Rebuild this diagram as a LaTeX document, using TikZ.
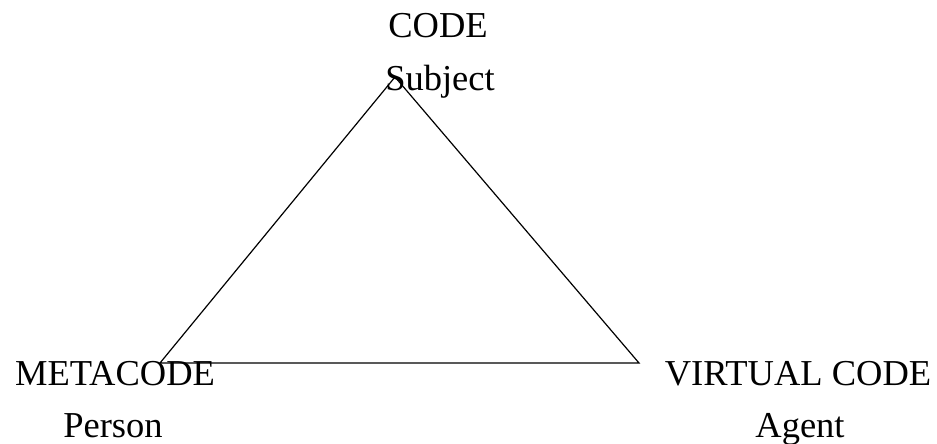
\documentclass[tikz,border=0pt]{standalone}
\usepackage{fontspec}
\setmainfont{Liberation Serif}
\begin{document}
\begin{tikzpicture}[x=1pt,y=-1pt,
  lbl/.style={anchor=base,inner sep=0pt,font=\fontsize{36.5}{40}\selectfont},
  edge/.style={draw=black,line width=1.2pt,line join=miter}]
\useasboundingbox (0,0) rectangle (937,444);
\coordinate (top) at (395,77);
\coordinate (bl) at (160,363);
\coordinate (br) at (639,363);
\draw[edge] (top) -- (br) -- (bl) -- cycle;
\node[lbl] (code) at (438,38) {CODE};
\node[lbl] (subj) at (440,90) {Subject};
\node[lbl] (meta) at (115,385) {METACODE};
\node[lbl] (pers) at (113,437) {Person};
\node[lbl] (virt) at (798,385) {VIRTUAL CODE};
\node[lbl] (agent) at (800,437) {Agent};
\end{tikzpicture}
\end{document}
